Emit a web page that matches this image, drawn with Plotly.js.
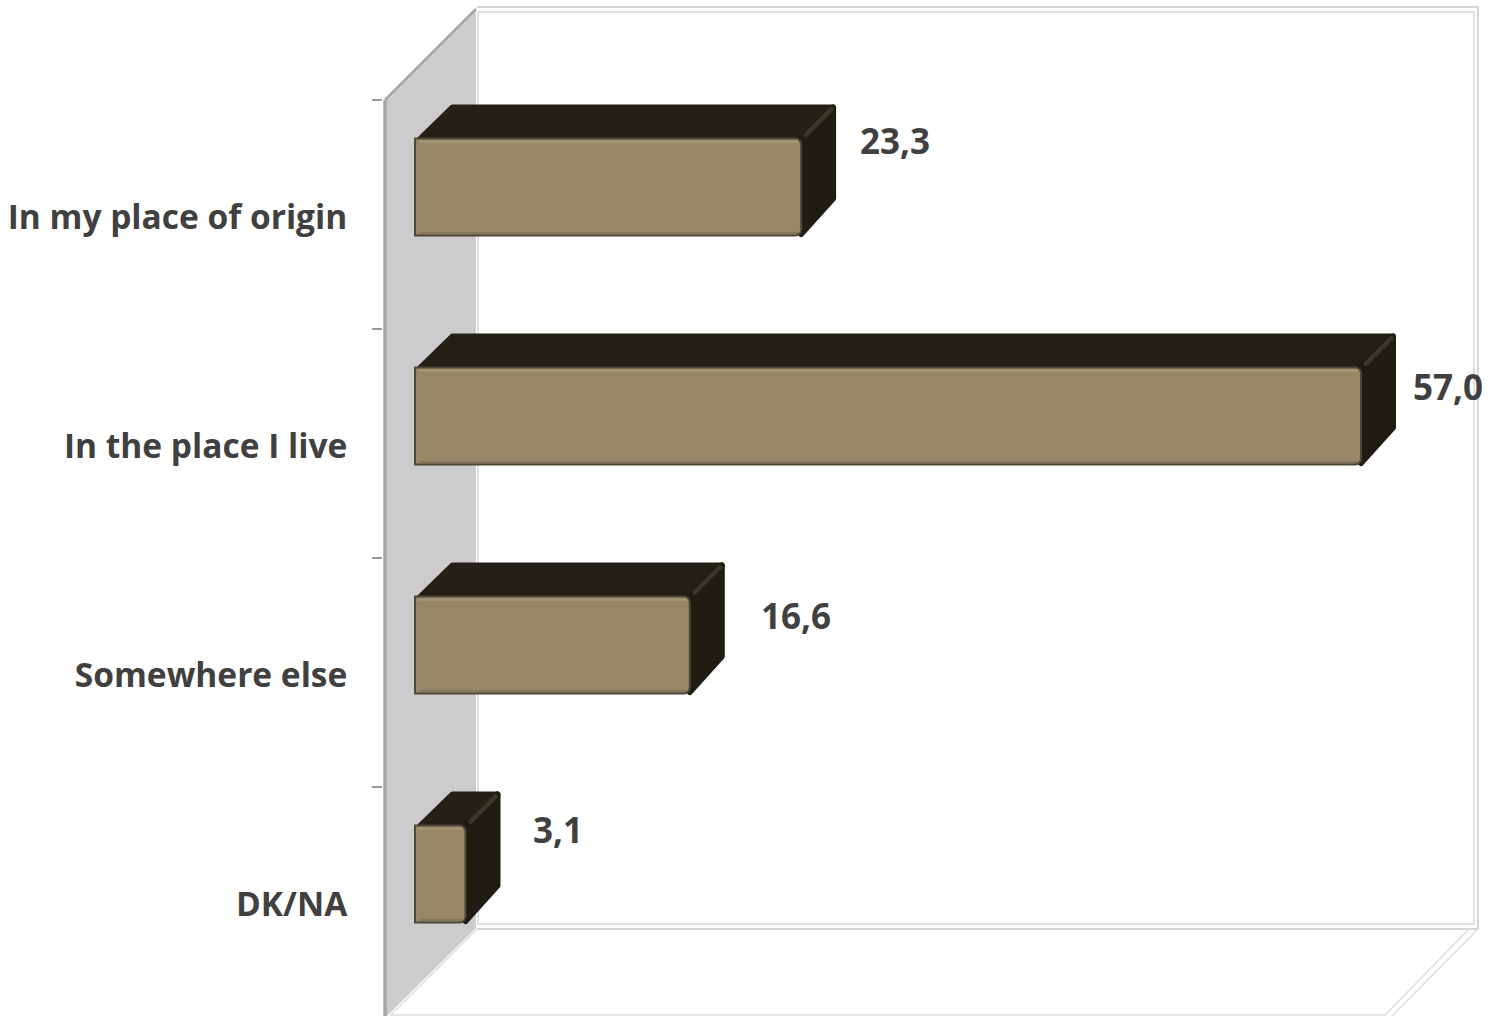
<!DOCTYPE html>
<html>
<head>
<meta charset="utf-8">
<script src="https://cdn.plot.ly/plotly-3.0.1.min.js"></script>
<style>
html,body{margin:0;padding:0;background:#fff;}
#chart{width:1496px;height:1016px;}
.scatterlayer path{stroke-linejoin:round;stroke-linecap:round;}
</style>
</head>
<body>
<div id="chart"></div>
<script>
// ---- data ----
var categories = ["In my place of origin", "In the place I live", "Somewhere else", "DK/NA"];
var values = [23.3, 57.0, 16.6, 3.1];

// ---- styles and placement (manually positioned value labels, in px from bar end / band centre) ----
var labelShiftX = [93, 86, 105, 91];
var labelShiftY = [74, 57, 57, 72];
var frontColor = "#978767", frontEdge = "#4e4737", frontLight = "#a39372", frontDark = "#85775b";
var topColor = "#241f17", sideColor = "#1f1c13", ridgeColor = "#3a3528";
var labelColor = "#404040", fontFamily = "'Open Sans', Lato, sans-serif";

// ---- scales ----
var W = 1496, H = 1016, axisPx = 383, zeroPx = 415;
var pxPerX = 947 / 57, bandPx = 229, firstTickPx = 100;
var xRange = [(axisPx - zeroPx) / pxPerX, (W - zeroPx) / pxPerX];
var yRange = [3.5, -0.5 - firstTickPx / bandPx];
function X(px) { return (px - zeroPx) / pxPerX; }
function Y(py) { return -0.5 + (py - firstTickPx) / bandPx; }
var idx = categories.map(function (_, i) { return i; });

var barH = 97 / bandPx, barOffset = -(214.5 - 138.5) / bandPx;   // front face top relative to band centre
var depthX = 34 / pxPerX, depthY = 34 / bandPx;
var insetX = 3 / pxPerX, insetY = 3 / bandPx;
var edge = 1 / pxPerX;

var topX = [], topY = [], sideX = [], sideY = [], ridgeX = [], ridgeY = [];
var lightX = [], lightY = [], darkX = [], darkY = [];
values.forEach(function (v, i) {
  var t = i + barOffset, b = t + barH;
  topX.push(insetX * 1.6, depthX + insetX * 1.2, v + depthX - insetX, v - edge, null);
  topY.push(t + insetY * 0.3, t - depthY + insetY, t - depthY + insetY, t, null);
  sideX.push(v - edge, v + depthX - insetX, v + depthX - insetX, v - edge, null);
  sideY.push(t, t - depthY + insetY, b - depthY - insetY, b - insetY * 0.5, null);
  ridgeX.push(v + 4 / pxPerX, v + depthX - 5 / pxPerX, null);
  ridgeY.push(t - 4 / bandPx, t - depthY + 5 / bandPx, null);
  lightX.push(5 / pxPerX, v - 5 / pxPerX, null);
  lightY.push(t + 3 / bandPx, t + 3 / bandPx, null);
  darkX.push(5 / pxPerX, v - 5 / pxPerX, null);
  darkY.push(b - 2.5 / bandPx, b - 2.5 / bandPx, null);
});

var traces = [
  { type: "scatter", mode: "lines", x: topX, y: topY, xaxis: "x", yaxis: "y", fill: "toself",
    fillcolor: topColor, line: { color: topColor, width: 6 }, hoverinfo: "skip" },
  { type: "scatter", mode: "lines", x: sideX, y: sideY, xaxis: "x", yaxis: "y", fill: "toself",
    fillcolor: sideColor, line: { color: sideColor, width: 6 }, hoverinfo: "skip" },
  { type: "scatter", mode: "lines", x: ridgeX, y: ridgeY, xaxis: "x", yaxis: "y",
    line: { color: ridgeColor, width: 5 }, hoverinfo: "skip" },
  { type: "bar", orientation: "h", x: values.map(function (v) { return v - edge; }), y: idx, xaxis: "x", yaxis: "y2",
    width: barH, offset: barOffset,
    marker: { color: frontColor, cornerradius: 6, line: { color: frontEdge, width: 2 } }, hoverinfo: "skip" },
  { type: "scatter", mode: "lines", x: lightX, y: lightY, xaxis: "x", yaxis: "y2",
    line: { color: frontLight, width: 3 }, hoverinfo: "skip" },
  { type: "scatter", mode: "lines", x: darkX, y: darkY, xaxis: "x", yaxis: "y2",
    line: { color: frontDark, width: 2 }, hoverinfo: "skip" }
];

function poly(points, fill, lineColor, lineWidth) {
  var d = points.map(function (p, i) { return (i ? "L" : "M") + X(p[0]) + "," + Y(p[1]); }).join(" ");
  return { type: "path", path: d, xref: "x", yref: "y", layer: "below",
    fillcolor: fill || "rgba(0,0,0,0)", line: { color: lineColor || "rgba(0,0,0,0)", width: lineWidth || 0 } };
}

var shapes = [
  // side wall
  poly([[385, 100], [476, 9], [476, 928], [387, 1016], [385, 1016], [385, 100]], "#cccccc"),
  poly([[385, 100], [476, 9]], null, "#a6a6a6", 2.5),
  poly([[385, 100], [385, 1016]], null, "#a6a6a6", 3.5),
  // back wall double frame
  poly([[477, 7], [1478, 7], [1478, 929], [477, 929]], null, "#d6d6d6", 2),
  poly([[478, 12], [1474, 12], [1474, 924], [478, 924], [478, 12]], null, "#e0e0e0", 2),
  // floor
  poly([[477, 929], [391, 1015], [1385, 1015], [1469, 929]], null, "#dedede", 1.5),
  poly([[1478, 929], [1392, 1016]], null, "#dedede", 1.5)
];

var annotations = values.map(function (v, i) {
  return { x: v, y: i, xref: "x", yref: "y", xanchor: "center", yanchor: "middle", showarrow: false,
    xshift: labelShiftX[i], yshift: labelShiftY[i],
    text: v.toFixed(1).replace(".", ","),
    font: { family: fontFamily, size: 35, color: labelColor, weight: 700 } };
});

var layout = {
  width: W, height: H, autosize: false,
  margin: { l: axisPx, r: 0, t: 0, b: 0, pad: 0 },
  paper_bgcolor: "#ffffff", plot_bgcolor: "#ffffff",
  showlegend: false, shapes: shapes, annotations: annotations,
  xaxis: { range: xRange, visible: false, fixedrange: true },
  yaxis: { range: yRange, showgrid: false, zeroline: false, showline: false, fixedrange: true,
    tickmode: "array", tickvals: [-0.5, 0.5, 1.5, 2.5], showticklabels: false,
    ticks: "outside", ticklen: 10, tickwidth: 2, tickcolor: "#9a9a9a" },
  yaxis2: { range: yRange, overlaying: "y", anchor: "x", side: "left", showgrid: false, zeroline: false,
    showline: false, fixedrange: true, tickmode: "array",
    tickvals: idx.map(function (i) { return i + 2.5 / bandPx; }), ticktext: categories,
    ticks: "outside", ticklen: 28, tickcolor: "rgba(0,0,0,0)", automargin: false,
    tickfont: { family: fontFamily, size: 33.5, color: labelColor, weight: 700 } }
};

Plotly.newPlot("chart", traces, layout, { displayModeBar: false, responsive: false });
</script>
</body>
</html>
